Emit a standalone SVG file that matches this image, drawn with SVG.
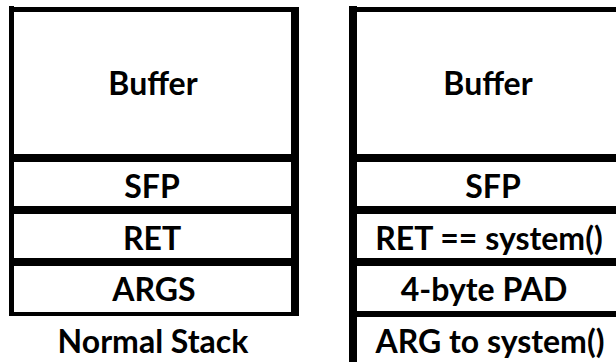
<svg xmlns="http://www.w3.org/2000/svg" width="616" height="362" viewBox="0 0 616 362">
<style>
.t{font-family:Lato,"Liberation Sans",sans-serif;font-weight:bold;font-size:32px;fill:#000;text-anchor:middle}
.b{fill:#000}
</style>
<rect width="616" height="362" fill="#fff"/>
<g id="normal-stack">
  <rect class="b" x="9" y="7" width="290" height="5"/>
  <rect class="b" x="9" y="6" width="5" height="310"/>
  <rect class="b" x="291" y="7" width="8" height="309"/>
  <rect class="b" x="9" y="154" width="290" height="8"/>
  <rect class="b" x="9" y="206" width="290" height="8"/>
  <rect class="b" x="9" y="258" width="290" height="8"/>
  <rect class="b" x="9" y="312" width="290" height="4"/>
  <text class="t" x="153" y="95">Buffer</text>
  <text class="t" x="152" y="198">SFP</text>
  <text class="t" x="152" y="250">RET</text>
  <text class="t" x="154" y="301">ARGS</text>
  <text class="t" x="153" y="353">Normal Stack</text>
</g>
<g id="exploit-stack">
  <rect class="b" x="349" y="7" width="267" height="5"/>
  <rect class="b" x="349" y="6" width="8" height="356"/>
  <rect class="b" x="349" y="154" width="267" height="8"/>
  <rect class="b" x="349" y="206" width="267" height="8"/>
  <rect class="b" x="349" y="258" width="267" height="8"/>
  <rect class="b" x="349" y="311" width="267" height="6"/>
  <text class="t" x="488" y="95">Buffer</text>
  <text class="t" x="493" y="198">SFP</text>
  <text class="t" x="489" y="250">RET == system()</text>
  <text class="t" x="484" y="301">4-byte PAD</text>
  <text class="t" x="490" y="353">ARG to system()</text>
</g>
<g id="connectors"></g>
</svg>
